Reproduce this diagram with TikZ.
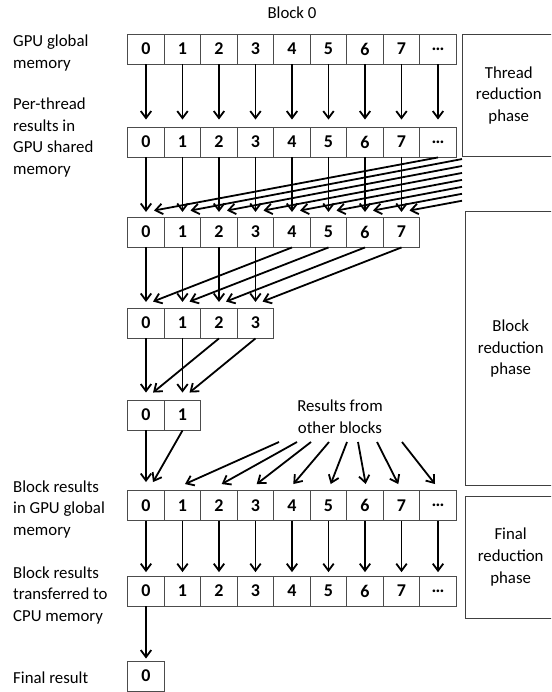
\documentclass[tikz,border=0pt]{standalone}
\usepackage{fontspec}
\setmainfont{Carlito}
\usetikzlibrary{arrows.meta,calc}

\newcommand{\cellfont}{\fontsize{18}{20}\selectfont\bfseries}
\newcommand{\labelfont}{\fontsize{16.8}{21.7}\selectfont}

\tikzset{
  cell/.style={
    draw=black!70, line width=0.9pt, inner sep=0pt,
    minimum width=36.5pt, minimum height=30pt, font=\cellfont
  },
  phase box/.style={
    draw=black!75, line width=0.9pt, inner sep=0pt, align=center,
    font=\labelfont
  },
  side label/.style={
    anchor=west, inner sep=0pt, align=left, font=\labelfont
  },
  flow/.style={
    line width=1.8pt, -{Straight Barb[length=7pt,width=10.5pt]}
  }
}

\begin{document}
\begin{tikzpicture}[x=1pt, y=-1pt]
\useasboundingbox (0,0) rectangle (551,692);
\clip (0,0) rectangle (551,692);

% ------------------------------------------------
% row 1: GPU global memory
% ------------------------------------------------
\node[inner sep=0pt, font=\labelfont] (title) at (292,13) {Block 0};
\node[side label] (lab-gm) at (13,53) {GPU global\\memory};
\foreach \i/\t in {0/0,1/1,2/2,3/3,4/4,5/5,6/6,7/7,8/…}
  \node[cell] (gm-\i) at ({146+36.5*\i},49) {\t};

% ------------------------------------------------
% row 2: per-thread results in shared memory
% ------------------------------------------------
\node[side label] (lab-sm) at (13,137.5) {Per-thread\\results in\\GPU shared\\memory};
\foreach \i/\t in {0/0,1/1,2/2,3/3,4/4,5/5,6/6,7/7,8/…}
  \node[cell] (sm-\i) at ({146+36.5*\i},142) {\t};
\foreach \i in {0,...,8}
  \draw[flow, shorten >=7pt] (gm-\i) -- (sm-\i);

% ------------------------------------------------
% block reduction: 8 -> 4 -> 2 -> 1
% ------------------------------------------------
\foreach \i in {0,...,7}
  \node[cell] (r8-\i) at ({146+36.5*\i},232) {\i};
\foreach \i in {0,...,3}
  \node[cell] (r4-\i) at ({146+36.5*\i},323) {\i};
\foreach \i in {0,1}
  \node[cell] (r2-\i) at ({146+36.5*\i},415) {\i};

\foreach \i in {0,...,7}
  \draw[flow, shorten >=4.6pt] (sm-\i) -- (r8-\i);
\coordinate (sm-in-0) at (sm-8.south);
\foreach \i in {1,...,7}
  \coordinate (sm-in-\i) at (462,{152.1+6.95*\i});
\foreach \i in {0,...,7} {
  \coordinate (r8-tip-\i) at ($(r8-\i.north)+(8,-6)$);
  \draw[flow] (sm-in-\i) -- (r8-tip-\i);
}

\foreach \i in {0,...,3}
  \draw[flow, shorten >=5.6pt] (r8-\i) -- (r4-\i);
\foreach \i/\j in {0/4,1/5,2/6,3/7} {
  \coordinate (r4-tip-\i) at ($(r4-\i.north)+(7,-6)$);
  \draw[flow] (r8-\j.south) -- (r4-tip-\i);
}

\foreach \i in {0,1}
  \draw[flow, shorten >=7pt] (r4-\i) -- (r2-\i);
\foreach \i/\j in {0/2,1/3} {
  \coordinate (r2-tip-\i) at ($(r2-\i.north)+(7,-7)$);
  \draw[flow] (r4-\j.south) -- (r2-tip-\i);
}

% ------------------------------------------------
% block results in global memory
% ------------------------------------------------
\node[side label] (lab-br) at (13,509.3) {Block results\\in GPU global\\memory};
\foreach \i/\t in {0/0,1/1,2/2,3/3,4/4,5/5,6/6,7/7,8/…}
  \node[cell] (br-\i) at ({146+36.5*\i},505.5) {\t};
\draw[flow, shorten >=8pt] (r2-0) -- (br-0);
\coordinate (br-tip-0) at ($(br-0.north)+(7,-8)$);
\draw[flow] (r2-1.south) -- (br-tip-0);

\node[inner sep=0pt, align=center, font=\labelfont] (others) at (340,417)
  {Results from\\other blocks};
\foreach \i/\x/\d in {1/279/2.5,2/297/2.7,3/311/1.2,4/329/1.3,
                      5/347/2.2,6/358/0.7,7/377/-3.2,8/402/-3} {
  \coordinate (ob-\i) at (\x,442);
  \coordinate (br-tip-\i) at ($(br-\i.north)+(\d,-6)$);
  \draw[flow] (ob-\i) -- (br-tip-\i);
}

% ------------------------------------------------
% transfer to CPU and final result
% ------------------------------------------------
\node[side label] (lab-cpu) at (13,595.3) {Block results\\transferred to\\CPU memory};
\foreach \i/\t in {0/0,1/1,2/2,3/3,4/4,5/5,6/6,7/7,8/…}
  \node[cell] (cpu-\i) at ({146+36.5*\i},591) {\t};
\foreach \i in {0,...,8}
  \draw[flow, shorten >=3.4pt] (br-\i) -- (cpu-\i);

\node[side label] (lab-fin) at (13,677.3) {Final result};
\node[cell] (fin) at (146,676) {0};
\draw[flow, shorten >=2pt] (cpu-0) -- (fin);

% ------------------------------------------------
% phase boxes on the right
% ------------------------------------------------
\node[phase box, minimum width=92.5pt, minimum height=122.4pt] (thread)
  at (508.75,95.5) {Thread\\reduction\\phase};
\node[phase box, minimum width=90.5pt, minimum height=274pt] (block)
  at (510.75,348.7) {Block\\reduction\\phase};
\node[phase box, minimum width=90.7pt, minimum height=122.3pt] (final)
  at (510.65,557.15) {Final\\reduction\\phase};
\end{tikzpicture}
\end{document}
